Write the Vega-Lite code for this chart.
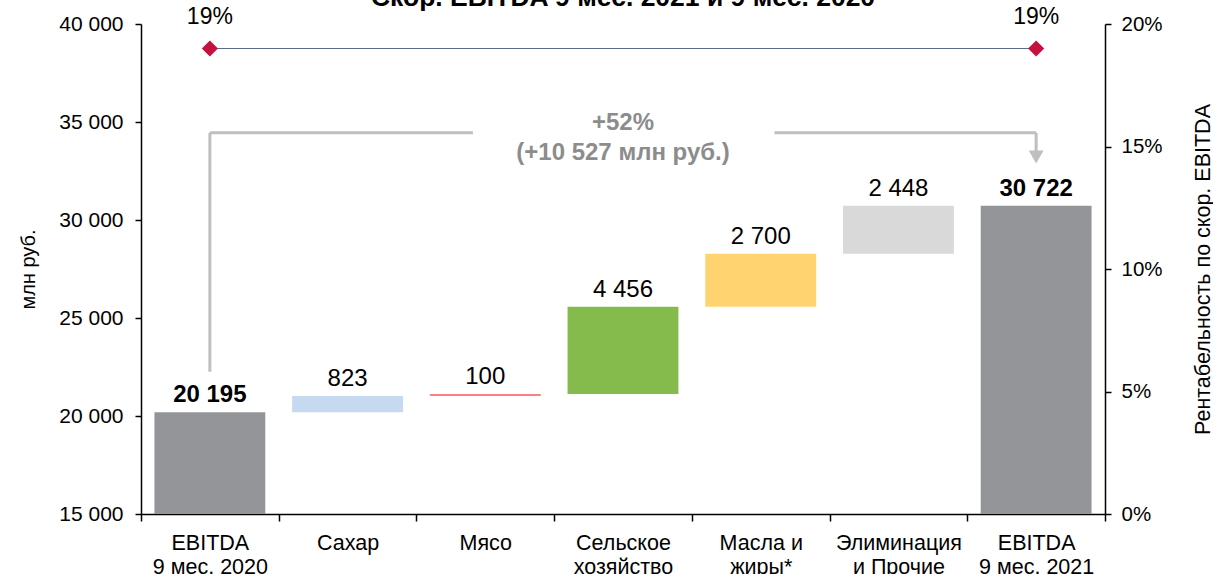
{
  "$schema": "https://vega.github.io/schema/vega-lite/v6.json",
  "width": 964,
  "height": 490,
  "autosize": "none",
  "padding": {"left": 141, "top": 24, "right": 108, "bottom": 60},
  "config": {
    "locale": {"number": {"decimal": ",", "thousands": " ", "grouping": [3], "currency": ["", " руб."]}},
    "view": {"stroke": null},
    "font": "Liberation Sans",
    "axis": {"labelFont": "Liberation Sans", "titleFont": "Liberation Sans", "labelColor": "#000", "titleColor": "#000", "domainColor": "#000", "tickColor": "#000", "grid": false, "titleFontWeight": "normal", "domainWidth": 1.5, "tickWidth": 1.5}
  },
  "datasets": {
    "bars": [
      {"cat": "EBITDA\n9 мес. 2020", "start": 0, "end": 20195, "value": 20195, "kind": "total"},
      {"cat": "Сахар", "start": 20195, "end": 21018, "value": 823, "kind": "delta"},
      {"cat": "Мясо", "start": 21018, "end": 21118, "value": 100, "kind": "delta"},
      {"cat": "Сельское\nхозяйство", "start": 21118, "end": 25574, "value": 4456, "kind": "delta"},
      {"cat": "Масла и\nжиры*", "start": 25574, "end": 28274, "value": 2700, "kind": "delta"},
      {"cat": "Элиминация\nи Прочие", "start": 28274, "end": 30722, "value": 2448, "kind": "delta"},
      {"cat": "EBITDA\n9 мес. 2021", "start": 0, "end": 30722, "value": 30722, "kind": "total"}
    ],
    "margin": [
      {"cat": "EBITDA\n9 мес. 2020", "margin": 0.19},
      {"cat": "EBITDA\n9 мес. 2021", "margin": 0.19}
    ],
    "one": [{}]
  },
  "layer": [
    {
      "layer": [
        {
          "data": {"name": "bars"},
          "mark": {"type": "bar", "clip": true, "width": {"band": 0.805}},
          "encoding": {
            "x": {
              "field": "cat", "type": "nominal",
              "scale": {"domain": ["EBITDA\n9 мес. 2020", "Сахар", "Мясо", "Сельское\nхозяйство", "Масла и\nжиры*", "Элиминация\nи Прочие", "EBITDA\n9 мес. 2021"], "paddingInner": 0, "paddingOuter": 0},
              "axis": {"title": null, "labelAngle": 0, "labelExpr": "split(datum.label, '\\n')", "labelFontSize": 21.5, "labelLineHeight": 24.5, "labelPadding": 11, "tickBand": "extent", "tickSize": 7, "labelBaseline": "top"}
            },
            "y": {
              "field": "start", "type": "quantitative",
              "scale": {"domain": [15000, 40000], "zero": false, "nice": false},
              "axis": {"title": "млн руб.", "titleFontSize": 20, "titlePadding": 20, "values": [15000, 20000, 25000, 30000, 35000, 40000], "format": ",d", "labelFontSize": 21, "tickSize": 6, "labelPadding": 12}
            },
            "y2": {"field": "end"},
            "color": {
              "field": "cat", "type": "nominal", "legend": null,
              "scale": {"domain": ["EBITDA\n9 мес. 2020", "Сахар", "Мясо", "Сельское\nхозяйство", "Масла и\nжиры*", "Элиминация\nи Прочие", "EBITDA\n9 мес. 2021"], "range": ["#939598", "#C5D9F1", "#FF8080", "#84BB4C", "#FFD470", "#D9D9D9", "#939598"]}
            }
          }
        },
        {
          "data": {"name": "bars"},
          "transform": [{"filter": "datum.kind == 'delta'"}],
          "mark": {"type": "text", "fontSize": 24, "baseline": "alphabetic", "dy": -10, "color": "#000"},
          "encoding": {
            "x": {"field": "cat", "type": "nominal"},
            "y": {"field": "end", "type": "quantitative"},
            "text": {"field": "value", "type": "quantitative", "format": ",d"}
          }
        },
        {
          "data": {"name": "bars"},
          "transform": [{"filter": "datum.kind == 'total'"}],
          "mark": {"type": "text", "fontSize": 24, "fontWeight": "bold", "baseline": "alphabetic", "dy": -10, "color": "#000"},
          "encoding": {
            "x": {"field": "cat", "type": "nominal"},
            "y": {"field": "end", "type": "quantitative"},
            "text": {"field": "value", "type": "quantitative", "format": ",d"}
          }
        },
        {
          "data": {"name": "one"},
          "mark": {"type": "rule", "color": "#BFBFBF", "strokeWidth": 3},
          "encoding": {
            "x": {"datum": "EBITDA\n9 мес. 2020"},
            "y": {"datum": 22260},
            "y2": {"datum": 34450}
          }
        },
        {
          "data": {"name": "one"},
          "mark": {"type": "rule", "color": "#BFBFBF", "strokeWidth": 3},
          "encoding": {
            "x": {"datum": "EBITDA\n9 мес. 2020"},
            "x2": {"datum": "Мясо", "bandPosition": 0.41},
            "y": {"datum": 34450}
          }
        },
        {
          "data": {"name": "one"},
          "mark": {"type": "rule", "color": "#BFBFBF", "strokeWidth": 3},
          "encoding": {
            "x": {"datum": "Масла и\nжиры*", "bandPosition": 0.6},
            "x2": {"datum": "EBITDA\n9 мес. 2021"},
            "y": {"datum": 34450}
          }
        },
        {
          "data": {"name": "one"},
          "mark": {"type": "rule", "color": "#BFBFBF", "strokeWidth": 3},
          "encoding": {
            "x": {"datum": "EBITDA\n9 мес. 2021"},
            "y": {"datum": 34450},
            "y2": {"datum": 33500}
          }
        },
        {
          "data": {"name": "one"},
          "mark": {"type": "point", "shape": "triangle-down", "filled": true, "opacity": 1, "color": "#BFBFBF", "size": 220},
          "encoding": {
            "x": {"datum": "EBITDA\n9 мес. 2021"},
            "y": {"datum": 33214}
          }
        },
        {
          "data": {"name": "one"},
          "mark": {"type": "text", "fontSize": 24, "fontWeight": "bold", "color": "#8C8C8C", "baseline": "alphabetic", "dy": -3, "lineHeight": 30},
          "encoding": {
            "x": {"datum": "Сельское\nхозяйство"},
            "y": {"datum": 34450},
            "text": {"value": ["+52%", "(+10 527 млн руб.)"]}
          }
        },
        {
          "data": {"name": "one"},
          "mark": {"type": "text", "fontSize": 26.5, "fontWeight": "bold", "color": "#000", "baseline": "alphabetic", "dy": -18},
          "encoding": {
            "x": {"datum": "Сельское\nхозяйство"},
            "y": {"datum": 40000},
            "text": {"value": "Скор. EBITDA 9 мес. 2021 и 9 мес. 2020"}
          }
        }
      ]
    },
    {
      "data": {"name": "margin"},
      "layer": [
        {
          "mark": {"type": "line", "color": "#5B6B8C", "strokeWidth": 1.2},
          "encoding": {
            "x": {"field": "cat", "type": "nominal"},
            "y": {
              "field": "margin", "type": "quantitative",
              "scale": {"domain": [0, 0.2], "nice": false},
              "axis": {"orient": "right", "title": "Рентабельность по скор. EBITDA", "titleFontSize": 21.5, "titleAngle": 270, "titleBaseline": "top", "titlePadding": 30, "values": [0, 0.05, 0.1, 0.15, 0.2], "format": ".0%", "labelFontSize": 20.5, "tickSize": 6, "labelPadding": 10}
            }
          }
        },
        {
          "mark": {"type": "point", "shape": "diamond", "filled": true, "opacity": 1, "color": "#C5113F", "size": 260},
          "encoding": {
            "x": {"field": "cat", "type": "nominal"},
            "y": {"field": "margin", "type": "quantitative"}
          }
        },
        {
          "mark": {"type": "text", "fontSize": 23, "color": "#000", "baseline": "alphabetic", "dy": -25},
          "encoding": {
            "x": {"field": "cat", "type": "nominal"},
            "y": {"field": "margin", "type": "quantitative"},
            "text": {"field": "margin", "type": "quantitative", "format": ".0%"}
          }
        }
      ]
    }
  ],
  "resolve": {"scale": {"y": "independent"}}
}
